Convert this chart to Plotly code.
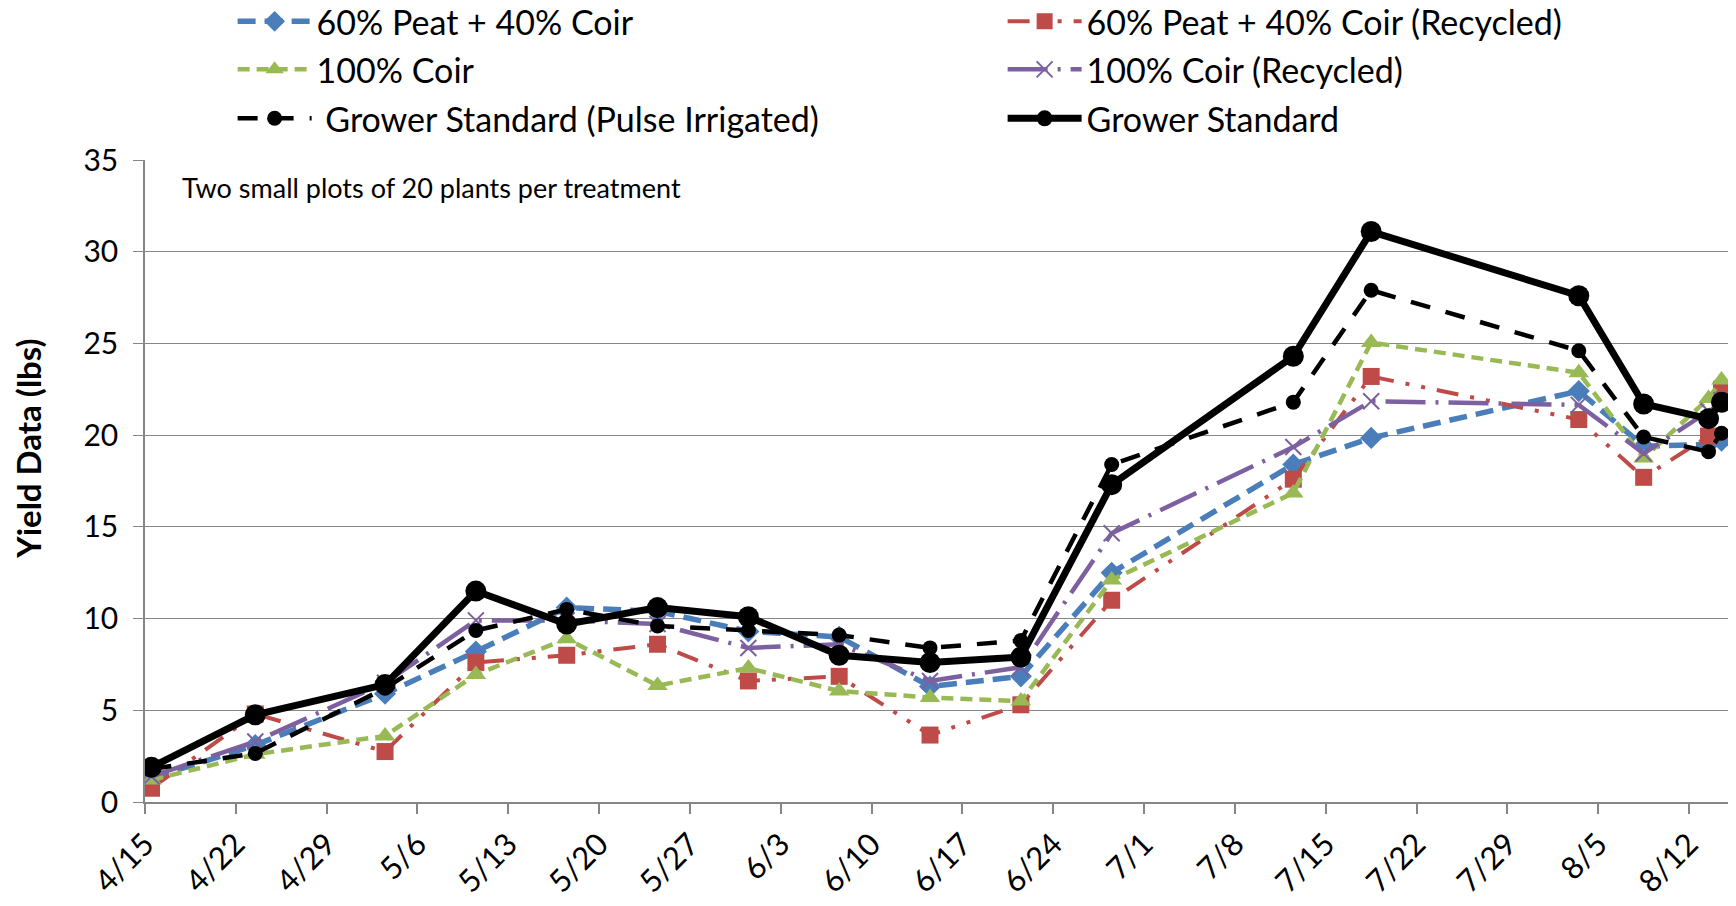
import plotly.graph_objects as go

# Harvest dates (plotted at mid-day so each point sits in its day slot)
dates = ["2013-04-15", "2013-04-23", "2013-05-03", "2013-05-10", "2013-05-17",
         "2013-05-24", "2013-05-31", "2013-06-07", "2013-06-14", "2013-06-21",
         "2013-06-28", "2013-07-12", "2013-07-18", "2013-08-03", "2013-08-08",
         "2013-08-13", "2013-08-14"]

peat_coir = [1.3, 3.1, 5.9, 8.2, 10.6, 10.4, 9.3, 9.0, 6.3, 6.85, 12.5, 18.4, 19.85, 22.4, 19.4, 19.5, 19.7]
peat_coir_recycled = [0.75, 4.8, 2.75, 7.6, 8.0, 8.6, 6.6, 6.85, 3.65, 5.3, 11.0, 17.6, 23.2, 20.85, 17.7, 19.95, 22.5]
coir = [1.2, 2.6, 3.6, 6.95, 8.9, 6.35, 7.3, 6.05, 5.7, 5.5, 12.1, 16.85, 25.05, 23.4, 18.75, 22.0, 23.0]
coir_recycled = [1.4, 3.3, 6.5, 9.9, 9.9, 9.7, 8.4, 8.6, 6.6, 7.35, 14.65, 19.35, 21.85, 21.65, 19.0, 21.3, 21.9]
grower_pulse = [1.8, 2.65, 6.2, 9.35, 10.5, 9.6, 9.35, 9.1, 8.4, 8.8, 18.4, 21.8, 27.9, 24.6, 19.9, 19.1, 20.1]
grower_standard = [1.9, 4.75, 6.4, 11.5, 9.7, 10.6, 10.1, 8.0, 7.6, 7.9, 17.3, 24.3, 31.1, 27.6, 21.7, 20.9, 21.8]

y_ticks = [0, 5, 10, 15, 20, 25, 30, 35]

x = [d + " 12:00" for d in dates]

FONT = "Lato"

series = [
    dict(name="60% Peat + 40% Coir", y=peat_coir, color="#4A7EBB", dash="18px,9px",
         width=5.5, symbol="diamond", size=17, legend="legend"),
    dict(name="60% Peat + 40% Coir (Recycled)", y=peat_coir_recycled, color="#BE4B48",
         dash="22px,12px,4px,12px,4px,12px", width=4, symbol="square", size=17,
         legend="legend"),
    dict(name="100% Coir", y=coir, color="#98B954", dash="12px,7px", width=4.5,
         symbol="triangle-up", size=18, legend="legend2"),
    dict(name="100% Coir (Recycled)", y=coir_recycled, color="#7D60A0",
         dash="40px,10px,3px,10px", width=4.5, symbol="x-thin", size=16, legend="legend2"),
    dict(name="\u00a0Grower Standard (Pulse Irrigated)", y=grower_pulse, color="#000000",
         dash="20px,16px", width=4.5, symbol="circle", size=15, legend="legend3"),
    dict(name="Grower Standard", y=grower_standard, color="#000000", dash="solid",
         width=7, symbol="circle", size=21, legend="legend3"),
]

fig = go.Figure()
for s in series:
    marker = dict(symbol=s["symbol"], size=s["size"], color=s["color"])
    if s["symbol"] == "x-thin":
        marker["line"] = dict(color=s["color"], width=2)
    fig.add_trace(go.Scatter(
        x=x, y=s["y"], name=s["name"], mode="lines+markers",
        line=dict(color=s["color"], width=s["width"], dash=s["dash"]),
        marker=marker, legend=s["legend"],
    ))

legend_common = dict(
    orientation="h", xref="container", yref="container",
    xanchor="left", yanchor="middle", entrywidth=681, itemwidth=74,
    font=dict(family=FONT, size=34, color="#000000"),
    bgcolor="rgba(0,0,0,0)", traceorder="normal",
)

fig.update_layout(
    width=1736, height=906,
    margin=dict(l=145, r=8, t=160, b=104, autoexpand=False),
    paper_bgcolor="#FFFFFF", plot_bgcolor="#FFFFFF",
    font=dict(family=FONT, color="#000000"),
    legend=dict(legend_common, x=0.134, y=0.976),
    legend2=dict(legend_common, x=0.134, y=0.923),
    legend3=dict(legend_common, x=0.134, y=0.869),
    xaxis=dict(
        type="date", range=["2013-04-15", "2013-08-15"],
        tickmode="linear", tick0="2013-04-15", dtick=7 * 86400000,
        tickformat="%-m/%-d", tickangle=-45,
        tickfont=dict(family=FONT, size=31, color="#000000"),
        showgrid=False, showline=True, linecolor="#868686", linewidth=1.5,
        ticks="outside", ticklen=10, tickcolor="#868686", tickwidth=1.5,
        zeroline=False,
    ),
    yaxis=dict(
        range=[0, 35], tickvals=y_ticks,
        tickfont=dict(family=FONT, size=30, color="#000000"),
        ticklabelstandoff=9,
        showgrid=True, gridcolor="#868686", gridwidth=1.3,
        showline=True, linecolor="#868686", linewidth=1.5,
        ticks="outside", ticklen=10, tickcolor="#868686", tickwidth=1.3,
        zeroline=False,
    ),
    annotations=[
        dict(text="Two small plots of 20 plants per treatment",
             xref="paper", yref="paper", x=0.022, y=0.957,
             xanchor="left", yanchor="middle", showarrow=False,
             font=dict(family=FONT, size=27, color="#000000")),
        dict(text="<b>Yield Data (lbs)</b>", textangle=-90,
             xref="paper", yref="paper", x=-0.074, y=0.55,
             xanchor="center", yanchor="middle", showarrow=False,
             font=dict(family=FONT, size=33, color="#000000")),
    ],
)

fig.write_html("out.html")
